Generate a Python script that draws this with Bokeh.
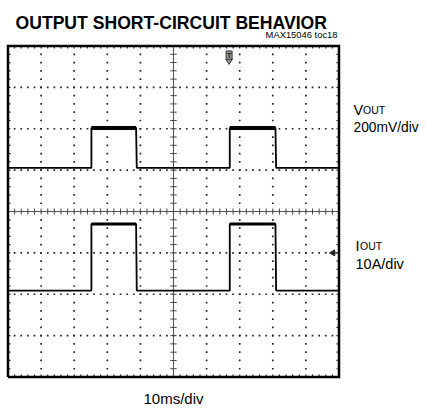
import numpy as np
from bokeh.plotting import figure
from bokeh.models import Range1d
from bokeh.core.properties import value
from bokeh.embed import file_html
from bokeh.resources import INLINE

# ---------------- data ----------------
time_ms = [0.0, 25.2, 25.2, 38.7, 38.9, 67.0, 67.0, 80.8, 81.0, 100.0]
vout_mV = [0, 0, 193, 193, 0, 0, 193, 193, 0, 0]
iout_A = [0, 0, 16.1, 16.1, 0, 0, 16.1, 16.1, 0, 0]
trigger_ms = 66.8
trigger_level_A = 9.1

title_text = "OUTPUT SHORT-CIRCUIT BEHAVIOR"
note_text = "MAX15046 toc18"
ch1_name, ch1_sub, ch1_scale = "V", "OUT", "200mV/div"
ch2_name, ch2_sub, ch2_scale = "I", "OUT", "10A/div"
time_scale = "10ms/div"

# ---------------- scope geometry ----------------
ms_per_div = 10.0
mv_per_div = 200.0
a_per_div = 10.0
n_xdiv, n_ydiv, n_minor = 10, 8, 5
vout_ground_div = 5.056
iout_ground_div = 2.09

W, H = 426, 408
px_per_ms = 3.31          # 33.1 px per division
frame_left_px = 7.5       # px of frame left edge
frame_top_px = 45.5       # px of frame top edge
px_per_div_y = 41.375
TEXT_DY = 6.5             # empirical baseline correction for text glyphs

x_lo = -frame_left_px / px_per_ms
x_hi = (W - frame_left_px) / px_per_ms
y_hi = n_ydiv + frame_top_px / px_per_div_y
y_lo = n_ydiv - (H - frame_top_px) / px_per_div_y


def X(px):
    return (px - frame_left_px) / px_per_ms


def Y(py):
    return n_ydiv - (py - frame_top_px) / px_per_div_y


p = figure(width=W, height=H, x_range=Range1d(x_lo, x_hi), y_range=Range1d(y_lo, y_hi),
           output_backend="svg", toolbar_location=None, min_border=0,
           x_axis_type=None, y_axis_type=None, outline_line_color=None,
           background_fill_color="white", border_fill_color="white")
p.extra_y_ranges = {
    "vout": Range1d((y_lo - vout_ground_div) * mv_per_div, (y_hi - vout_ground_div) * mv_per_div),
    "iout": Range1d((y_lo - iout_ground_div) * a_per_div, (y_hi - iout_ground_div) * a_per_div),
}

x_max = n_xdiv * ms_per_div
dot_color = "#222222"

# dotted graticule
minor_x = np.linspace(0, x_max, n_xdiv * n_minor + 1)
minor_y = np.linspace(0, n_ydiv, n_ydiv * n_minor + 1)
dx, dy = [], []
for k in range(1, n_xdiv):
    if k == n_xdiv // 2:
        continue
    for yy in minor_y[1:-1]:
        dx.append(k * ms_per_div)
        dy.append(yy)
for j in range(1, n_ydiv):
    if j == n_ydiv // 2:
        continue
    for xx in minor_x[1:-1]:
        dx.append(xx)
        dy.append(j)
p.scatter(dx, dy, marker="square", size=1.7, fill_color=dot_color, line_color=None)

# edge ticks
tl_x = 2.5 / px_per_ms
tl_y = 2.5 / px_per_div_y
sx0, sy0, sx1, sy1 = [], [], [], []
for xx in minor_x[1:-1]:
    sx0 += [xx, xx]; sx1 += [xx, xx]
    sy0 += [0, n_ydiv]; sy1 += [tl_y, n_ydiv - tl_y]
for yy in minor_y[1:-1]:
    sy0 += [yy, yy]; sy1 += [yy, yy]
    sx0 += [0, x_max]; sx1 += [tl_x, x_max - tl_x]
p.segment(sx0, sy0, sx1, sy1, line_color=dot_color, line_width=1.2)

# centre cross with ticks
cx = x_max / 2
cy = n_ydiv / 2
p.segment([cx, 0], [0, cy], [cx, x_max], [n_ydiv, cy], line_color="#555555", line_width=1)
ctx_ = 3.2 / px_per_ms
cty_ = 3.0 / px_per_div_y
p.segment([cx - ctx_] * len(minor_y), list(minor_y), [cx + ctx_] * len(minor_y), list(minor_y),
          line_color="#444444", line_width=1)
p.segment(list(minor_x), [cy - cty_] * len(minor_x), list(minor_x), [cy + cty_] * len(minor_x),
          line_color="#444444", line_width=1)

# frame
p.line([0, x_max, x_max, 0, 0], [0, 0, n_ydiv, n_ydiv, 0], line_color="black",
       line_width=2.5, line_join="miter")

# traces
p.line(time_ms, vout_mV, y_range_name="vout", line_color="black", line_width=1.8)
p.line(time_ms, iout_A, y_range_name="iout", line_color="black", line_width=1.8)
vhi = [(time_ms[i], time_ms[i + 1], vout_mV[i]) for i in range(len(time_ms) - 1)
       if vout_mV[i] > 0 and vout_mV[i + 1] > 0]
ihi = [(time_ms[i], time_ms[i + 1], iout_A[i]) for i in range(len(time_ms) - 1)
       if iout_A[i] > 0 and iout_A[i + 1] > 0]
p.segment([a for a, b, c in vhi], [c for a, b, c in vhi], [b for a, b, c in vhi], [c for a, b, c in vhi],
          y_range_name="vout", line_color="black", line_width=4)
p.segment([a for a, b, c in ihi], [c for a, b, c in ihi], [b for a, b, c in ihi], [c for a, b, c in ihi],
          y_range_name="iout", line_color="black", line_width=3)

# trigger marker (top) and trigger level arrow (right)
p.rect([trigger_ms], [Y(55)], width=6, height=9, width_units="screen", height_units="screen",
       fill_color="#9a9a9a", line_color="#333333", line_width=1)
p.scatter([trigger_ms], [Y(60.5)], marker="inverted_triangle", size=6,
          fill_color="#9a9a9a", line_color="#333333", line_width=1)
p.text([trigger_ms], [Y(55)], text=["T"], text_font=value("Liberation Sans"), text_font_size="8px",
       text_font_style="bold", text_align="center", text_baseline="middle", text_color="#222222")
p.scatter([X(332.5)], [trigger_level_A], y_range_name="iout", marker="triangle", angle=np.pi / 2,
          size=6, fill_color="#222222", line_color="#222222")
p.segment([X(333)], [trigger_level_A], [X(337)], [trigger_level_A], y_range_name="iout",
          line_color="#222222", line_width=1.2)

# texts
sans = value("Liberation Sans")


def txt(px, py, s, size, style="normal", align="left"):
    p.text([X(px)], [Y(py - TEXT_DY)], text=[s], text_font=sans, text_font_size=size,
           text_font_style=style, text_align=align, text_baseline="alphabetic",
           text_color="black")


txt(15, 29, title_text, "17.6px", "bold")
txt(337, 40.5, note_text, "9.4px", align="right")
txt(353, 115.5, ch1_name, "14.5px")
txt(362.5, 115.5, ch1_sub, "10.5px")
txt(353, 133.5, ch1_scale, "13.8px")
txt(355, 251.5, ch2_name, "14.5px")
txt(359.5, 251.5, ch2_sub, "10.5px")
txt(355, 270, ch2_scale, "14.5px")
txt(173, 404.5, time_scale, "15px", align="center")

open("out.html", "w").write(file_html(p, INLINE))
